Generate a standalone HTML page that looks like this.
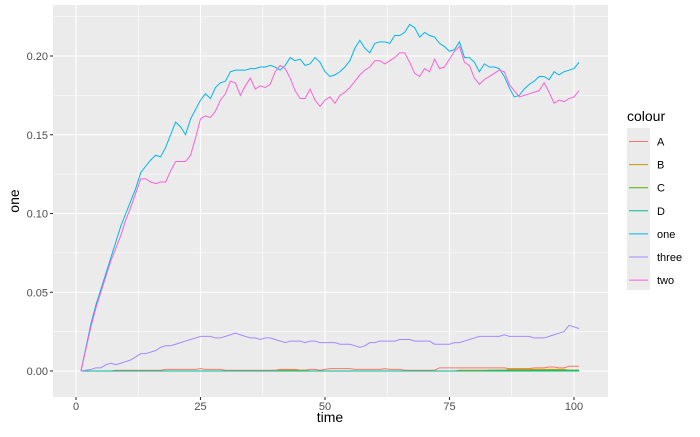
<!DOCTYPE html>
<html><head><meta charset="utf-8"><style>
body{margin:0;background:#fff;font-family:"Liberation Sans",Arial,sans-serif}
svg text{font-family:"Liberation Sans",Arial,sans-serif}
</style></head><body>
<svg id="chart" width="700" height="432" xmlns="http://www.w3.org/2000/svg">
<rect x="0" y="0" width="700" height="432" fill="#fff"/>
<rect x="53" y="5" width="555" height="392" fill="#EBEBEB"/>
<g id="grid"></g>
<g id="series"></g>
<g id="axes"></g>
<text x="330" y="422" font-size="14" text-anchor="middle" fill="#000">time</text>
<text x="19" y="201" font-size="14" text-anchor="middle" fill="#000" transform="rotate(-90 19 201)">one</text>
<g id="legend"></g>
</svg>
<script>
const xTicks=[0,25,50,75,100];
const yTicks=[0,0.05,0.10,0.15,0.20];
const yTickLabels=["0.00","0.05","0.10","0.15","0.20"];
const seriesNames=["A","B","C","D","one","three","two"];
const seriesColors=["#F8766D","#C49A00","#53B400","#00C094","#00B6EB","#A58AFF","#FB61D7"];
const one=[0,0.015,0.03,0.042,0.052,0.062,0.072,0.082,0.092,0.100,
0.108,0.116,0.126,0.130,0.134,0.137,0.136,0.142,0.150,0.158,
0.155,0.150,0.160,0.166,0.172,0.176,0.173,0.180,0.183,0.184,
0.190,0.191,0.191,0.191,0.192,0.192,0.193,0.193,0.194,0.193,
0.191,0.194,0.199,0.197,0.198,0.194,0.195,0.199,0.196,0.190,
0.187,0.188,0.190,0.193,0.197,0.205,0.210,0.205,0.202,0.208,
0.209,0.209,0.208,0.213,0.213,0.215,0.220,0.218,0.212,0.215,
0.213,0.212,0.208,0.206,0.203,0.204,0.209,0.199,0.199,0.196,
0.190,0.195,0.193,0.193,0.192,0.187,0.180,0.174,0.175,0.179,
0.182,0.184,0.187,0.187,0.185,0.190,0.188,0.190,0.191,0.192,0.196];
const two=[0,0.014,0.028,0.040,0.050,0.060,0.070,0.078,0.086,0.096,
0.104,0.113,0.122,0.122,0.120,0.119,0.120,0.120,0.127,0.133,
0.133,0.133,0.137,0.148,0.160,0.162,0.161,0.165,0.172,0.176,
0.184,0.183,0.175,0.181,0.186,0.179,0.181,0.180,0.182,0.190,
0.194,0.192,0.186,0.178,0.173,0.173,0.179,0.172,0.168,0.172,
0.174,0.170,0.175,0.177,0.180,0.184,0.188,0.191,0.193,0.197,
0.197,0.195,0.197,0.199,0.202,0.202,0.196,0.189,0.187,0.192,
0.190,0.198,0.192,0.193,0.198,0.203,0.206,0.196,0.194,0.186,
0.182,0.185,0.187,0.189,0.191,0.190,0.182,0.178,0.174,0.175,
0.176,0.177,0.178,0.183,0.177,0.170,0.172,0.171,0.173,0.174,0.178];
const three=[0,0.0005,0.001,0.002,0.002,0.004,0.005,0.004,0.005,0.006,
0.007,0.009,0.011,0.011,0.012,0.013,0.015,0.016,0.016,0.017,
0.018,0.019,0.020,0.021,0.022,0.022,0.022,0.021,0.021,0.022,
0.023,0.024,0.023,0.022,0.021,0.021,0.020,0.021,0.021,0.020,
0.019,0.018,0.019,0.019,0.019,0.018,0.019,0.019,0.018,0.018,
0.018,0.018,0.017,0.017,0.017,0.016,0.015,0.016,0.018,0.018,
0.019,0.019,0.019,0.019,0.020,0.020,0.020,0.019,0.019,0.019,
0.019,0.017,0.017,0.017,0.017,0.018,0.018,0.019,0.020,0.021,
0.022,0.022,0.022,0.022,0.022,0.023,0.022,0.022,0.022,0.022,
0.022,0.021,0.021,0.021,0.022,0.023,0.024,0.025,0.029,0.028,0.027];
const A=[0,0,0,0,0,0,0,0.0005,0.0005,0.0005,
0.0005,0.0005,0.0005,0.0005,0.0005,0.0005,0.0005,0.001,0.001,0.001,
0.001,0.001,0.001,0.001,0.0015,0.001,0.001,0.001,0.001,0.0005,
0.0005,0.0005,0.0005,0.0005,0.0005,0.0005,0.0005,0.0005,0.0005,0.0005,
0.001,0.001,0.001,0.001,0.0005,0.0005,0.001,0.001,0.0005,0.001,
0.0015,0.0015,0.0015,0.0015,0.0015,0.001,0.001,0.001,0.001,0.001,
0.001,0.0015,0.001,0.001,0.001,0.0005,0.0005,0.0005,0.0005,0.0005,
0.0005,0.0005,0.002,0.002,0.002,0.002,0.002,0.002,0.002,0.002,
0.002,0.002,0.002,0.002,0.002,0.002,0.0015,0.0015,0.0015,0.0015,
0.0015,0.002,0.002,0.002,0.0025,0.0025,0.002,0.002,0.003,0.003,0.003];
const B=[0,0,0,0,0,0,0,0,0,0,
0,0,0,0,0,0,0,0,0,0,
0,0,0,0,0,0,0,0,0,0,
0,0,0,0,0,0,0,0,0,0,
0.0005,0.0005,0.0005,0.0005,0.0005,0.0005,0,0,0,0,
0,0,0,0,0,0,0,0,0,0,
0,0,0,0,0,0,0,0,0,0,
0,0,0,0,0,0,0.0005,0.0005,0.0005,0.0005,
0.0005,0.0005,0.0005,0.0005,0.0005,0.0005,0.001,0.001,0.001,0.001,
0.001,0.001,0.001,0.001,0.001,0.001,0.001,0.001,0.0005,0.0005,0.0005];
const C=[0,0,0,0,0,0,0,0,0,0,
0,0,0,0,0,0,0,0,0,0,
0,0,0,0,0,0,0,0,0,0,
0,0,0,0,0,0,0,0,0,0,
0,0,0,0,0,0,0,0,0,0,
0,0,0,0,0,0,0,0,0,0,
0,0,0,0,0,0,0,0,0,0,
0,0,0,0,0,0,0,0,0,0,
0,0,0.0005,0.0005,0.0005,0.0005,0.0005,0.0005,0.0005,0.0005,
0.0005,0.0005,0.0005,0.0005,0.0005,0.0005,0.0005,0.0005,0.0005,0.0005,0.0005];
const D=new Array(101).fill(0);
const seriesData=[A,B,C,D,one,three,two];
const NS="http://www.w3.org/2000/svg";
const px0=53,px1=608,py0=5,py1=397;
function xs(v){return 76+(v/25)*124.5;}
function ys(v){return 371-(v/0.05)*78.75;}
function mk(tag,attrs,parent){const e=document.createElementNS(NS,tag);for(const k in attrs)e.setAttribute(k,attrs[k]);parent.appendChild(e);return e;}
const grid=document.getElementById('grid'),axes=document.getElementById('axes'),ser=document.getElementById('series'),leg=document.getElementById('legend');
for(let i=0;i<xTicks.length-1;i++){const m=(xTicks[i]+xTicks[i+1])/2;
const l=mk('line',{x1:xs(m),x2:xs(m),y1:py0,y2:py1,stroke:'#fff','stroke-width':0.55},grid);

}
for(let i=0;i<yTicks.length;i++){const m=yTicks[i]+0.025;if(ys(m)<py0)continue;
const l=mk('line',{x1:px0,x2:px1,y1:ys(m),y2:ys(m),stroke:'#fff','stroke-width':0.55},grid);

}
xTicks.forEach(v=>{const l=mk('line',{x1:xs(v),x2:xs(v),y1:py0,y2:py1,stroke:'#fff','stroke-width':1.1},grid);


const t=mk('line',{x1:xs(v),x2:xs(v),y1:py1,y2:py1+3,stroke:'#333','stroke-width':1.1},axes);


const tx=mk('text',{x:xs(v),y:py1+13,'font-size':11,'text-anchor':'middle',fill:'#4D4D4D'},axes);tx.textContent=v;

});
yTicks.forEach((v,i)=>{const l=mk('line',{x1:px0,x2:px1,y1:ys(v),y2:ys(v),stroke:'#fff','stroke-width':1.1},grid);


const t=mk('line',{x1:px0-3,x2:px0,y1:ys(v),y2:ys(v),stroke:'#333','stroke-width':1.1},axes);


const tx=mk('text',{x:px0-5,y:ys(v)+4,'font-size':11,'text-anchor':'end',fill:'#4D4D4D'},axes);tx.textContent=yTickLabels[i];

});
seriesData.forEach((arr,si)=>{const pts=arr.map((v,i)=>xs(i+1).toFixed(2)+','+ys(v).toFixed(2)).join(' ');
const p=mk('polyline',{points:pts,fill:'none',stroke:seriesColors[si],'stroke-width':1},ser);

});
const lt=mk('text',{x:627,y:121,'font-size':14,fill:'#000'},leg);lt.textContent='colour';


mk('rect',{x:627,y:128,width:23,height:162,fill:'#EBEBEB'},leg);
seriesNames.forEach((n,i)=>{const cy=141.5+i*23.1;
const l=mk('line',{x1:629,x2:648,y1:cy,y2:cy,stroke:seriesColors[i],'stroke-width':1},leg);


const t=mk('text',{x:657,y:cy+4,'font-size':11,fill:'#000'},leg);t.textContent=n;

});
</script>
</body></html>
